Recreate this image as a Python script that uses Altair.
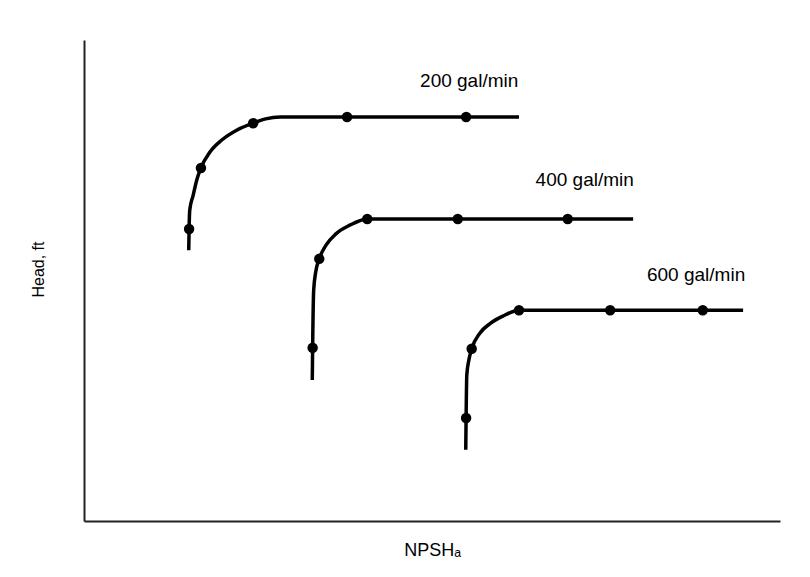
import altair as alt
import pandas as pd

# Curve vertices, arbitrary units 0-100
c200_x = [15.05, 15.1, 15.2, 15.7, 16.2, 16.8, 18.1, 19.8, 22.0, 24.3, 26.1, 28.2, 37.8, 54.9, 62.5]
c200_y = [56.3, 60.7, 64.7, 67.8, 70.9, 73.4, 76.7, 79.2, 81.3, 82.7, 83.6, 84.0, 84.0, 84.0, 84.0]
c200_dot = [0, 1, 0, 0, 0, 1, 0, 0, 0, 1, 0, 0, 1, 1, 0]

c400_x = [32.8, 32.85, 33.0, 33.3, 33.8, 34.8, 36.2, 38.2, 40.7, 53.7, 69.5, 78.9]
c400_y = [29.3, 36.0, 48.0, 51.8, 54.5, 57.4, 59.7, 61.5, 62.8, 62.8, 62.8, 62.8]
c400_dot = [0, 1, 0, 0, 1, 0, 0, 0, 1, 1, 1, 0]

c600_x = [54.85, 54.9, 55.0, 55.3, 55.7, 56.9, 58.3, 60.2, 62.5, 75.6, 88.9, 94.7]
c600_y = [14.8, 21.4, 30.4, 33.5, 35.8, 39.1, 41.0, 42.6, 43.8, 43.8, 43.8, 43.8]
c600_dot = [0, 1, 0, 0, 1, 0, 0, 0, 1, 1, 1, 0]

labels = ["200 gal/min", "400 gal/min", "600 gal/min"]
label_x = [62.4, 79.0, 95.0]
label_y = [91.5, 70.9, 51.1]

rows = []
for name, xs_, ys_, ds in [("200", c200_x, c200_y, c200_dot),
                           ("400", c400_x, c400_y, c400_dot),
                           ("600", c600_x, c600_y, c600_dot)]:
    for i, (x, y, d) in enumerate(zip(xs_, ys_, ds)):
        rows.append({"series": name, "i": i, "x": x, "y": y, "dot": d})
df = pd.DataFrame(rows)
lab = pd.DataFrame({"label": labels, "x": label_x, "y": label_y})

FONT = "Liberation Sans"

xs = alt.Scale(domain=[0, 100], nice=False, zero=False)
ys = alt.Scale(domain=[0, 100], nice=False, zero=False)

x_axis = alt.Axis(title="NPSHₐ", labels=False, ticks=False, grid=False,
                  domainColor="#222", domainWidth=2, titleFont=FONT,
                  titleFontSize=18, titleFontWeight="normal", titleColor="#000",
                  titlePadding=20)
y_axis = alt.Axis(title="Head, ft", labels=False, ticks=False, grid=False,
                  domainColor="#222", domainWidth=2, titleFont=FONT,
                  titleFontSize=16, titleFontWeight="normal", titleColor="#000",
                  titlePadding=38, titleY=229)

base = alt.Chart(df)
line = base.mark_line(color="black", strokeWidth=3.5, interpolate="monotone").encode(
    x=alt.X("x:Q", scale=xs, axis=x_axis),
    y=alt.Y("y:Q", scale=ys, axis=y_axis),
    detail="series:N",
    order="i:Q",
)
dots = base.transform_filter("datum.dot == 1").mark_point(
    filled=True, color="black", size=110, opacity=1
).encode(x=alt.X("x:Q", scale=xs), y=alt.Y("y:Q", scale=ys))

text = alt.Chart(lab).mark_text(align="right", baseline="middle", font=FONT,
                                fontSize=19, color="#000").encode(
    x=alt.X("x:Q", scale=xs), y=alt.Y("y:Q", scale=ys), text="label:N")

chart = alt.layer(line, dots, text).properties(
    width=696, height=481,
    autosize=alt.AutoSizeParams(type="none"),
    padding={"left": 84, "top": 40, "right": 30, "bottom": 56},
    background="white",
).configure_view(stroke=None)

chart.save("out.html", embed_options={"renderer": "svg", "actions": False})
